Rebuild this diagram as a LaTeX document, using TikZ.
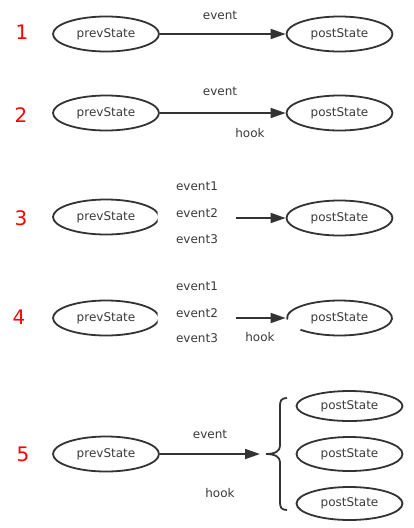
\documentclass[tikz,border=0pt]{standalone}
\usepackage{fontspec}
\setmainfont{DejaVu Sans}
\usetikzlibrary{shapes.geometric,arrows.meta}
\definecolor{ink}{HTML}{333333}
\definecolor{txt}{HTML}{3A3A3A}
\begin{document}
\begin{tikzpicture}[x=1pt,y=-1pt,
  st/.style={ellipse,draw=ink,line width=1.8pt,minimum width=106pt,minimum height=35pt,inner sep=0pt,text=txt,font=\fontsize{12}{14}\selectfont},
  stn/.style={st,draw=none},
  lbl/.style={text=txt,font=\fontsize{12}{14}\selectfont,inner sep=0pt},
  num/.style={text=red,font=\fontsize{20}{24}\selectfont,inner sep=0pt},
  arr/.style={draw=ink,line width=1.8pt,-{Triangle[length=15pt,width=10pt]}},
  edge/.style={draw=ink,line width=1.8pt}]
\useasboundingbox (0,0) rectangle (413,528);
% row 1
\node[num] (n1) at (22,32) {1};
\node[st] (p1) at (106,34) {prevState};
\node[st] (q1) at (339.5,34) {postState};
\draw[arr] (p1.east) -- (q1.west);
\node[lbl] (e1) at (220,15) {event};
% row 2
\node[num] (n2) at (21,115) {2};
\node[st] (p2) at (106,113) {prevState};
\node[st] (q2) at (339.5,113) {postState};
\draw[arr] (p2.east) -- (q2.west);
\node[lbl] (e2) at (220,91) {event};
\node[lbl] (h2) at (250,133) {hook};
% row 3
\node[num] (n3) at (21,218) {3};
\node[stn] (p3) at (106,217) {prevState};
\begin{scope}
\clip (0,150) rectangle (157.5,260);
\draw[edge] (p3.center) ellipse[x radius=53pt,y radius=17.5pt];
\end{scope}
\node[st] (q3) at (339.5,218) {postState};
\node[lbl] (a3) at (197,186) {event1};
\node[lbl] (b3) at (197,213) {event2};
\node[lbl] (c3) at (197,239) {event3};
\coordinate (s3) at (236,218);
\draw[arr] (s3) -- (q3.west);
% row 4
\node[num] (n4) at (19,317) {4};
\node[stn] (p4) at (106,318) {prevState};
\begin{scope}
\clip (0,260) rectangle (157.5,360);
\draw[edge] (p4.center) ellipse[x radius=53pt,y radius=17.5pt];
\end{scope}
\node[stn] (q4) at (339.5,318) {postState};
\draw[edge] (q4.center) ++(222:52.5pt and 17.5pt) arc[start angle=222,end angle=545,x radius=52.5pt,y radius=17.5pt];
\node[lbl] (a4) at (197,286) {event1};
\node[lbl] (b4) at (197,313) {event2};
\node[lbl] (c4) at (197,338) {event3};
\node[lbl] (h4) at (260,337) {hook};
\coordinate (s4) at (236,318);
\draw[arr] (s4) -- (q4.west);
% row 5
\node[num] (n5) at (23,454) {5};
\node[st] (p5) at (106,454) {prevState};
\coordinate (bt) at (260,454);
\draw[arr] (p5.east) -- (bt);
\node[lbl] (e5) at (210,434) {event};
\node[lbl] (h5) at (220,493) {hook};
\draw[edge] (287,398) .. controls (281,398) and (280,401) .. (280,406) -- (280,446)
  .. controls (280,451) and (275,454) .. (266,454)
  .. controls (275,454) and (280,457) .. (280,462) -- (280,502)
  .. controls (280,507) and (281,510) .. (287,510);
\node[st,minimum height=30pt] (r1) at (349.5,406) {postState};
\node[st,minimum height=34pt] (r2) at (349.5,454) {postState};
\node[st,minimum height=33pt] (r3) at (349.5,503.5) {postState};
\end{tikzpicture}
\end{document}
